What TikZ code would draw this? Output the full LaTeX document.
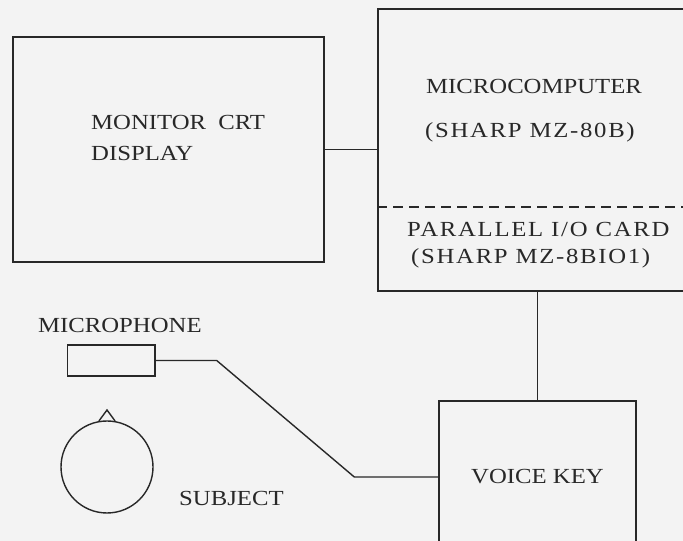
\documentclass[tikz,border=0pt]{standalone}
\usepackage{fontspec}
\setmainfont{Liberation Serif}[FakeStretch=1.15]
\newfontfamily\widefont{Liberation Serif}[FakeStretch=1.15, LetterSpace=8]
\definecolor{ink}{RGB}{40,40,40}
\definecolor{paper}{RGB}{243,243,243}
\begin{document}
\begin{tikzpicture}[x=1pt, y=1pt,
        box/.style={draw=ink, line width=1.4pt, rectangle, inner sep=0pt},
        txt/.style={font=\fontsize{21.5}{25}\selectfont, text=ink, anchor=base west, inner sep=0pt},
        wide/.style={txt, font=\fontsize{21.5}{25}\selectfont\widefont},
        wire/.style={draw=ink, line width=1.4pt}
    ]

    % Page
    \fill[paper] (0,0) rectangle (683,541);
    \useasboundingbox (0,0) rectangle (683,541);
    \clip (0,0) rectangle (683,541);

    % Monitor
    \node[box, minimum width=311pt, minimum height=225pt] (monitor) at (168.5,391.5) {};
    \node[txt] (montext) at (91,411) {MONITOR\hspace{6pt} CRT};
    \node[txt] (disptext) at (91,380) {DISPLAY};

    % Microcomputer with I/O card
    \node[box, minimum width=332pt, minimum height=282pt] (micro) at (544,391) {};
    \draw[ink, line width=1.4pt, dash pattern=on 10pt off 6pt] (micro.west |- 0,334) -- (micro.east |- 0,334);
    \node[txt] (microtext) at (426,447) {MICROCOMPUTER};
    \node[wide] (microtype) at (425,403) {(SHARP MZ-80B)};
    \node[wide] (cardtext) at (407,304) {PARALLEL I/O CARD};
    \node[wide] (cardtype) at (411,277) {(SHARP MZ-8BIO1)};

    % Voice key
    \node[box, minimum width=197pt, minimum height=152pt, font=\fontsize{21.5}{25}\selectfont, text=ink] (voice) at (537.5,64) {VOICE KEY};

    % Microphone and subject
    \node[box, minimum width=87.5pt, minimum height=31pt] (mic) at (111.25,180.5) {};
    \node[txt] (mictext) at (38,208) {MICROPHONE};
    \node[draw=ink, line width=1.4pt, circle, minimum size=92pt, inner sep=0pt] (head) at (107,74) {};
    \coordinate (nose) at (107,131);
    \draw[wire] (head.100) -- (nose) -- (head.80);
    \node[txt] (subjtext) at (179,35) {SUBJECT};

    % Connections
    \draw[wire] (monitor.east) -- (monitor.east -| micro.west);
    \draw[wire] (voice.north) -- (voice.north |- micro.south);
    \draw[wire] (mic.east) -- ++(61,0) -- ([xshift=-84pt]voice.west) -- (voice.west);

\end{tikzpicture}
\end{document}
